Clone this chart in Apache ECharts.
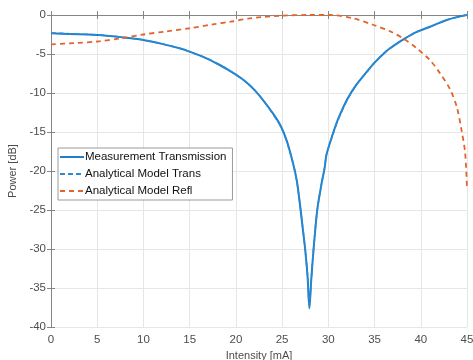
<!DOCTYPE html>
<html>
<head>
<meta charset="utf-8">
<script src="https://cdn.jsdelivr.net/npm/echarts@6/dist/echarts.min.js"></script>
<style>
  html, body { margin: 0; padding: 0; background: #fff; }
  #chart { width: 473px; height: 360px; }
</style>
</head>
<body>
<div id="chart"></div>
<script>
// values
var measX = [0, 2, 4, 5, 6, 8, 10, 12, 14, 15, 16, 17, 18, 19, 20, 21, 22, 23, 24, 24.8, 25.5, 26.2, 26.6, 26.9, 27.2, 27.5, 27.75, 27.95, 28.15, 28.4, 28.8, 29.3, 29.6, 29.8, 30.5, 31, 32, 33, 34.15, 35, 36.3, 37, 38.3, 39.5, 41, 42.8, 44, 45]
var measY = [-2.35, -2.42, -2.5, -2.56, -2.65, -2.9, -3.2, -3.7, -4.3, -4.7, -5.15, -5.65, -6.25, -6.9, -7.65, -8.5, -9.6, -11.0, -12.6, -14.1, -16.1, -19.1, -21.3, -24.0, -27.0, -30.1, -33.5, -37.6, -34.0, -30.1, -25.0, -21.4, -19.6, -17.9, -15.2, -13.5, -10.9, -9.0, -7.3, -6.1, -4.6, -4.0, -3.0, -2.2, -1.5, -0.64, -0.25, 0]

var transX = [0, 2, 4, 5, 6, 8, 10, 12, 14, 15, 16, 17, 18, 19, 20, 21, 22, 23, 24, 24.8, 25.5, 26.2, 26.6, 26.9, 27.2, 27.5, 27.75, 27.95, 28.15, 28.4, 28.8, 29.3, 29.6, 29.8, 30.5, 31, 32, 33, 34.15, 35, 36.3, 37, 38.3, 39.5, 41, 42.8, 44, 45]
var transY = [-2.3, -2.4, -2.5, -2.55, -2.65, -2.9, -3.2, -3.7, -4.3, -4.7, -5.15, -5.65, -6.25, -6.95, -7.65, -8.5, -9.6, -11.0, -12.7, -14.2, -16.2, -19.1, -21.4, -24.0, -27.0, -30.1, -33.4, -37.2, -33.9, -30.0, -25.0, -21.4, -19.6, -17.9, -15.3, -13.6, -11.0, -9.0, -7.3, -6.1, -4.6, -4.0, -3.0, -2.2, -1.5, -0.65, -0.25, 0]

var reflX = [0, 2.5, 5, 7.5, 10, 12.5, 15, 17.5, 19.4, 21.5, 24.8, 28, 30.2, 32.7, 34.9, 36.7, 38.1, 39.6, 41, 42.1, 43.2, 43.9, 44.4, 44.8, 45]
var reflY = [-3.76, -3.6, -3.4, -3.0, -2.5, -2.1, -1.7, -1.2, -0.86, -0.43, -0.09, 0, 0, -0.43, -1.28, -2.1, -3.0, -4.3, -5.8, -7.5, -9.6, -11.8, -14.7, -17.7, -22.3]

var xTicks = [0, 5, 10, 15, 20, 25, 30, 35, 40, 45]
var yTicks = [-40, -35, -30, -25, -20, -15, -10, -5, 0]

function pairs (xs, ys) {
  return xs.map(function (x, i) { return [x, ys[i]] })
}

var font = 'Liberation Sans, Arial, sans-serif'
var axisGray = '#858585'
var noMarker = { color: 'rgba(0,0,0,0)', borderColor: 'rgba(0,0,0,0)', borderWidth: 0, opacity: 0 }

var myChart = echarts.init(document.getElementById('chart'))
var option = {
  backgroundColor: '#fff',
  animation: false,
  textStyle: { fontFamily: font },
  grid: { left: 51, right: 6, top: 15, bottom: 33, containLabel: false, outerBoundsMode: 'none' },
  legend: {
    orient: 'vertical',
    left: 58,
    top: 148,
    padding: [3, 6, 3, 1],
    itemWidth: 24,
    itemHeight: 10,
    itemGap: 5,
    backgroundColor: '#fff',
    borderColor: '#9a9a9a',
    borderWidth: 1,
    borderRadius: 0,
    textStyle: { fontFamily: font, fontSize: 11.5, color: '#111', padding: [0, 0, 0, -4] },
    data: [
      { name: 'Measurement Transmission', itemStyle: noMarker },
      { name: 'Analytical Model Trans', itemStyle: noMarker },
      { name: 'Analytical Model Refl', itemStyle: noMarker }
    ]
  },
  xAxis: [
    {
      type: 'value', min: 0, max: 45, interval: 5,
      name: 'Intensity [mA]', nameLocation: 'middle', nameGap: 21,
      nameTextStyle: { fontFamily: font, fontSize: 11, color: '#4d4d4d' },
      axisLine: { show: true, lineStyle: { color: axisGray, width: 1 } },
      axisTick: { show: true, inside: true, length: 4, lineStyle: { color: axisGray } },
      axisLabel: { margin: 7, fontSize: 11.5, color: '#4d4d4d', fontFamily: font,
        formatter: function (v) { return xTicks.indexOf(v) >= 0 ? String(v) : '' } },
      splitLine: { show: true, lineStyle: { color: '#e6e6e6', width: 1 } }
    },
    {
      type: 'value', min: 0, max: 45, interval: 5, position: 'top',
      axisLine: { show: true, lineStyle: { color: axisGray, width: 1 } },
      axisTick: { show: true, inside: true, length: 4, lineStyle: { color: axisGray } },
      axisLabel: { show: false },
      splitLine: { show: false }
    }
  ],
  yAxis: [
    {
      type: 'value', min: -40, max: 0, interval: 5,
      name: 'Power [dB]', nameLocation: 'middle', nameGap: 22,
      nameTextStyle: { fontFamily: font, fontSize: 11, color: '#4d4d4d' },
      axisLine: { show: true, lineStyle: { color: axisGray, width: 1 } },
      axisTick: { show: true, inside: true, length: 4, lineStyle: { color: axisGray } },
      axisLabel: { margin: 5, fontSize: 11.5, color: '#4d4d4d', fontFamily: font,
        formatter: function (v) { return yTicks.indexOf(v) >= 0 ? String(v) : '' } },
      splitLine: { show: true, lineStyle: { color: '#e6e6e6', width: 1 } }
    },
    {
      type: 'value', min: -40, max: 0, interval: 5, position: 'right',
      axisLine: { show: true, lineStyle: { color: axisGray, width: 1 } },
      axisTick: { show: true, inside: true, length: 4, lineStyle: { color: axisGray } },
      axisLabel: { show: false },
      splitLine: { show: false }
    }
  ],
  series: [
    {
      name: 'Measurement Transmission',
      type: 'line',
      smooth: 0.3,
      showSymbol: false,
      symbol: 'none',
      color: '#1f7fc8',
      lineStyle: { width: 2, color: '#1f7fc8' },
      data: pairs(measX, measY)
    },
    {
      name: 'Analytical Model Trans',
      type: 'line',
      smooth: 0.3,
      showSymbol: false,
      symbol: 'none',
      color: '#2b8ad6',
      lineStyle: { width: 1.6, type: [5, 3], color: '#2b8ad6' },
      data: pairs(transX, transY)
    },
    {
      name: 'Analytical Model Refl',
      type: 'line',
      smooth: 0.3,
      showSymbol: false,
      symbol: 'none',
      color: '#e2642c',
      lineStyle: { width: 1.8, type: [5, 4], color: '#e2642c' },
      data: pairs(reflX, reflY)
    }
  ]
}
myChart.setOption(option)
</script>
</body>
</html>
